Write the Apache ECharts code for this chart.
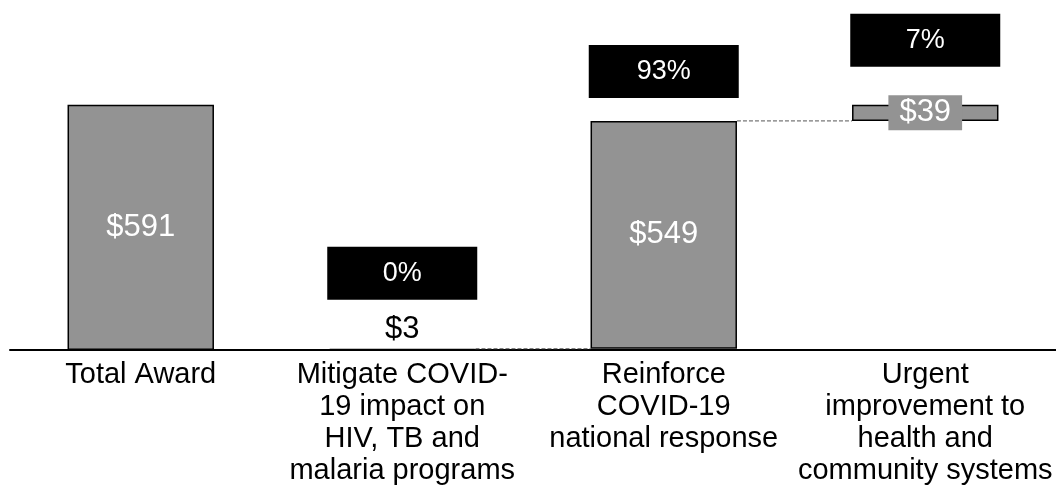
<!DOCTYPE html>
<html>
<head>
<meta charset="utf-8">
<script src="https://cdn.jsdelivr.net/npm/echarts@6/dist/echarts.min.js"></script>
<style>
  html, body { margin: 0; padding: 0; background: #fff; }
  #main { width: 1056px; height: 487px; }
</style>
</head>
<body>
<div id="main"></div>
<script>
// categories and values (US$ millions)
var categories = [
  'Total Award',
  'Mitigate COVID-\n19 impact on\nHIV, TB and\nmalaria programs',
  'Reinforce\nCOVID-19\nnational response',
  'Urgent\nimprovement to\nhealth and\ncommunity systems'
]
var totalAward = 591
var stepValues = [3, 549, 39]
var shareLabels = ['', '0%', '93%', '7%']

// gap between the percentage box and the top of each bar
var shareGap = [0, 49, 23, 38]

var font = 'Liberation Sans, Arial, sans-serif'
var gray = '#939393'

// invisible base for the waterfall steps
var baseData = [0]
var barData = [totalAward]
var acc = 0
for (var i = 0; i < stepValues.length; i++) {
  baseData.push(acc)
  barData.push(stepValues[i])
  acc += stepValues[i]
}

// dashed connectors between consecutive steps: [fromIndex, level]
var connectors = []
for (var j = 1; j < barData.length - 1; j++) {
  connectors.push([j, baseData[j] + barData[j]])
}

var valueItems = barData.map(function(v, i) {
  var item = { value: v, label: {} }
  if (i === 1) {
    item.label = { position: 'top', distance: 4, color: '#000' }
  } else if (i === 3) {
    item.label = { position: 'inside', backgroundColor: gray, padding: [3, 11, 3, 11], lineHeight: 29 }
  }
  return item
})

var shareItems = shareLabels.map(function(s, i) {
  return { value: 0, label: { show: s !== '', distance: shareGap[i] } }
})

var chart = echarts.init(document.getElementById('main'))
var option = {
  animation: false,
  grid: { left: 10, right: 0, top: 18, bottom: 136, containLabel: false },
  xAxis: {
    type: 'category',
    data: categories,
    axisTick: { show: false },
    axisLine: { lineStyle: { color: '#000', width: 2 } },
    axisLabel: {
      interval: 0,
      margin: 9,
      color: '#000',
      fontSize: 29,
      lineHeight: 32,
      fontFamily: font,
      align: 'center'
    }
  },
  yAxis: { type: 'value', min: 0, max: 800, show: false },
  series: [
    {
      type: 'custom',
      z: 1,
      renderItem: function(params, api) {
        var p0 = api.coord([api.value(0), api.value(1)])
        var p1 = api.coord([api.value(0) + 1, api.value(1)])
        var half = api.size([1, 0])[0] * 0.28
        return {
          type: 'line',
          shape: { x1: p0[0] + half, y1: p0[1], x2: p1[0] - half, y2: p1[1] },
          style: { stroke: '#555', lineWidth: 1, lineDash: [4, 2] }
        }
      },
      data: connectors
    },
    {
      type: 'bar',
      stack: 'wf',
      barWidth: '56%',
      itemStyle: { color: 'transparent' },
      data: baseData
    },
    {
      type: 'bar',
      stack: 'wf',
      z: 3,
      itemStyle: { color: gray, borderColor: '#000', borderWidth: 1.5 },
      label: {
        show: true,
        position: 'inside',
        color: '#fff',
        fontSize: 31,
        fontFamily: font,
        formatter: function(p) { return '$' + p.value }
      },
      data: valueItems
    },
    {
      type: 'bar',
      stack: 'wf',
      itemStyle: { color: 'transparent' },
      label: {
        show: true,
        position: 'top',
        fontFamily: font,
        formatter: function(p) { return '{b|' + shareLabels[p.dataIndex] + '}' },
        rich: {
          b: {
            width: 150,
            height: 53,
            lineHeight: 53,
            align: 'center',
            backgroundColor: '#000',
            color: '#fff',
            fontSize: 27,
            fontFamily: font
          }
        }
      },
      data: shareItems
    }
  ]
}
chart.setOption(option)
</script>
</body>
</html>
